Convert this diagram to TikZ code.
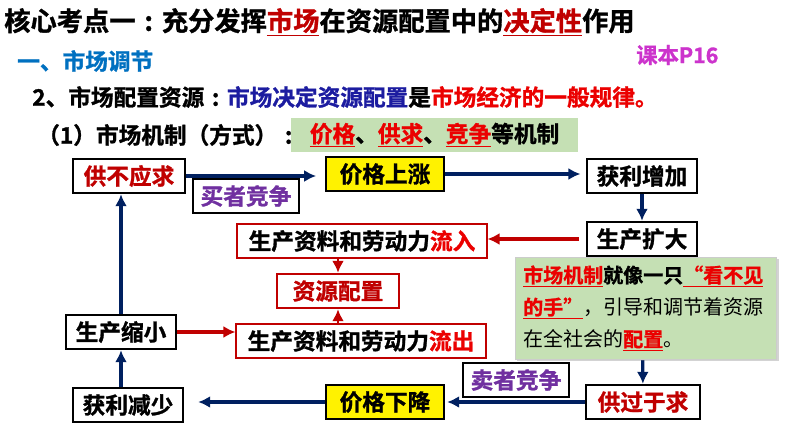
\documentclass[tikz,border=0pt]{standalone}
\usepackage{fontspec}
\setmainfont{Noto Sans CJK SC}[BoldFont={Noto Sans CJK SC Bold}, BoldFeatures={FakeBold=1.2}]
\usetikzlibrary{arrows.meta,shadows}

\definecolor{navy}{RGB}{0,32,96}
\definecolor{dred}{RGB}{192,0,0}
\definecolor{bred}{RGB}{235,0,0}
\definecolor{sblue}{RGB}{0,112,192}
\definecolor{dblue}{RGB}{28,28,160}
\definecolor{purp}{RGB}{112,48,160}
\definecolor{mag}{RGB}{204,51,204}
\definecolor{lgreen}{RGB}{197,224,180}

\newcommand{\midcolon}{\makebox[1em][c]{:}}

\tikzset{
  box/.style={draw=black, line width=1.3pt, fill=white, minimum height=26pt,
    inner sep=2pt, font=\fontsize{17pt}{20pt}\selectfont\bfseries},
  ybox/.style={box, fill=yellow},
  rbox/.style={box, draw=dred},
  barr/.style={draw=navy, line width=2.4pt, -{Latex[length=9pt,width=9pt]}},
  rarr/.style={draw=dred, line width=2.4pt, -{Latex[length=9pt,width=9pt]}},
  head/.style={anchor=west, inner sep=0pt, font=\fontsize{17pt}{20pt}\selectfont\bfseries},
}

\begin{document}
\begin{tikzpicture}[x=0.75pt,y=-0.75pt]
    \useasboundingbox (0,0) rectangle (794,447);

    % header lines
    \node[head, font=\fontsize{19.7pt}{22pt}\selectfont\bfseries] (title) at (4,22)
        {核心考点一\midcolon 充分发挥\textcolor{dred}{\underline{市场}}在资源配置中的\textcolor{dred}{\underline{决定性}}作用};
    \node[head, text=sblue] (sec) at (17,61) {一、市场调节};
    \node[head, text=mag, font=\fontsize{16pt}{18pt}\selectfont\bfseries] (book) at (636,55) {课本P16};
    \node[head] (law) at (32,97)
        {2、市场配置资源\midcolon\textcolor{dblue}{市场决定资源配置}是\textcolor{bred}{市场经济的一般规律。}};
    \node[head] (mech) at (37,135) {（1）市场机制（方式）\midcolon};
    \node[head, fill=lgreen, inner xsep=14pt, minimum height=25.5pt] (kinds) at (291,135)
        {\textcolor{bred}{\underline{价格}}、\textcolor{bred}{\underline{供求}}、\textcolor{bred}{\underline{竞争}}等机制};

    % boxes
    \node[box, text=dred, minimum width=84pt] (gbyq) at (129,176) {供不应求};
    \node[ybox, minimum width=88pt] (jgsz) at (385,174) {价格上涨};
    \node[box, minimum width=83pt] (hlzj) at (642,176) {获利增加};
    \node[box, text=purp, minimum width=80pt] (mzjz) at (246,196) {买者竞争};
    \node[box, minimum width=83pt] (sckd) at (642,239) {生产扩大};
    \node[rbox, minimum width=187pt] (lr) at (362,241) {生产资料和劳动力\textcolor{bred}{流入}};
    \node[rbox, text=dred, minimum width=92pt] (zypz) at (338,291) {资源配置};
    \node[box, minimum width=82pt] (scsx) at (121,332) {生产缩小};
    \node[rbox, minimum width=187pt] (lc) at (361,341) {生产资料和劳动力\textcolor{bred}{流出}};
    \node[box, minimum width=82pt] (hljs) at (128,405) {获利减少};
    \node[ybox, minimum width=88pt] (jgxj) at (385,402) {价格下降};
    \node[box, text=purp, minimum width=80pt] (szjz) at (516,380) {卖者竞争};
    \node[box, text=dred, minimum width=85pt] (ggyq) at (643,402) {供过于求};

    % connectors
    \draw[barr, shorten >=7pt] (gbyq.east) -- (gbyq.east -| jgsz.west);
    \draw[barr, shorten >=4pt] (jgsz.east) -- (jgsz.east -| hlzj.west);
    \draw[barr] (hlzj) -- (sckd);
    \draw[rarr, shorten <=5pt] (sckd.west) -- (sckd.west -| lr.east);
    \draw[rarr, line width=1.8pt] (lr.south -| zypz) -- (zypz.north);
    \draw[rarr, line width=1.8pt] (lc.north -| zypz) -- (zypz.south);
    \draw[rarr] (scsx.east) -- (scsx.east -| lc.west);
    \draw[barr] (sckd) -- (ggyq);
    \draw[barr, shorten >=2pt] (ggyq.west) -- (ggyq.west -| jgxj.east);
    \draw[barr, shorten >=11pt] (jgxj.west) -- (jgxj.west -| hljs.east);
    \draw[barr] (hljs.north -| scsx) -- (scsx.south);
    \draw[barr] (scsx) -- (scsx |- gbyq.south);

    % note over the down arrow
    \node[draw=gray!40, fill=lgreen, drop shadow={shadow xshift=1.5pt, shadow yshift=-1.5pt, opacity=0.35},
        anchor=north west, text width=184pt, minimum height=76.5pt, inner xsep=6pt, inner ysep=3pt,
        align=left, font=\fontsize{15pt}{24pt}\selectfont] (note) at (515,257)
        {\textbf{\textcolor{bred}{\underline{市场机制}}就像一只\textcolor{bred}{\underline{“看不见}}}\\
         \textbf{\textcolor{bred}{\underline{的手”}}}，引导和调节着资源\\
         在全社会的\textbf{\textcolor{bred}{\underline{配置}}}。};
\end{tikzpicture}
\end{document}
